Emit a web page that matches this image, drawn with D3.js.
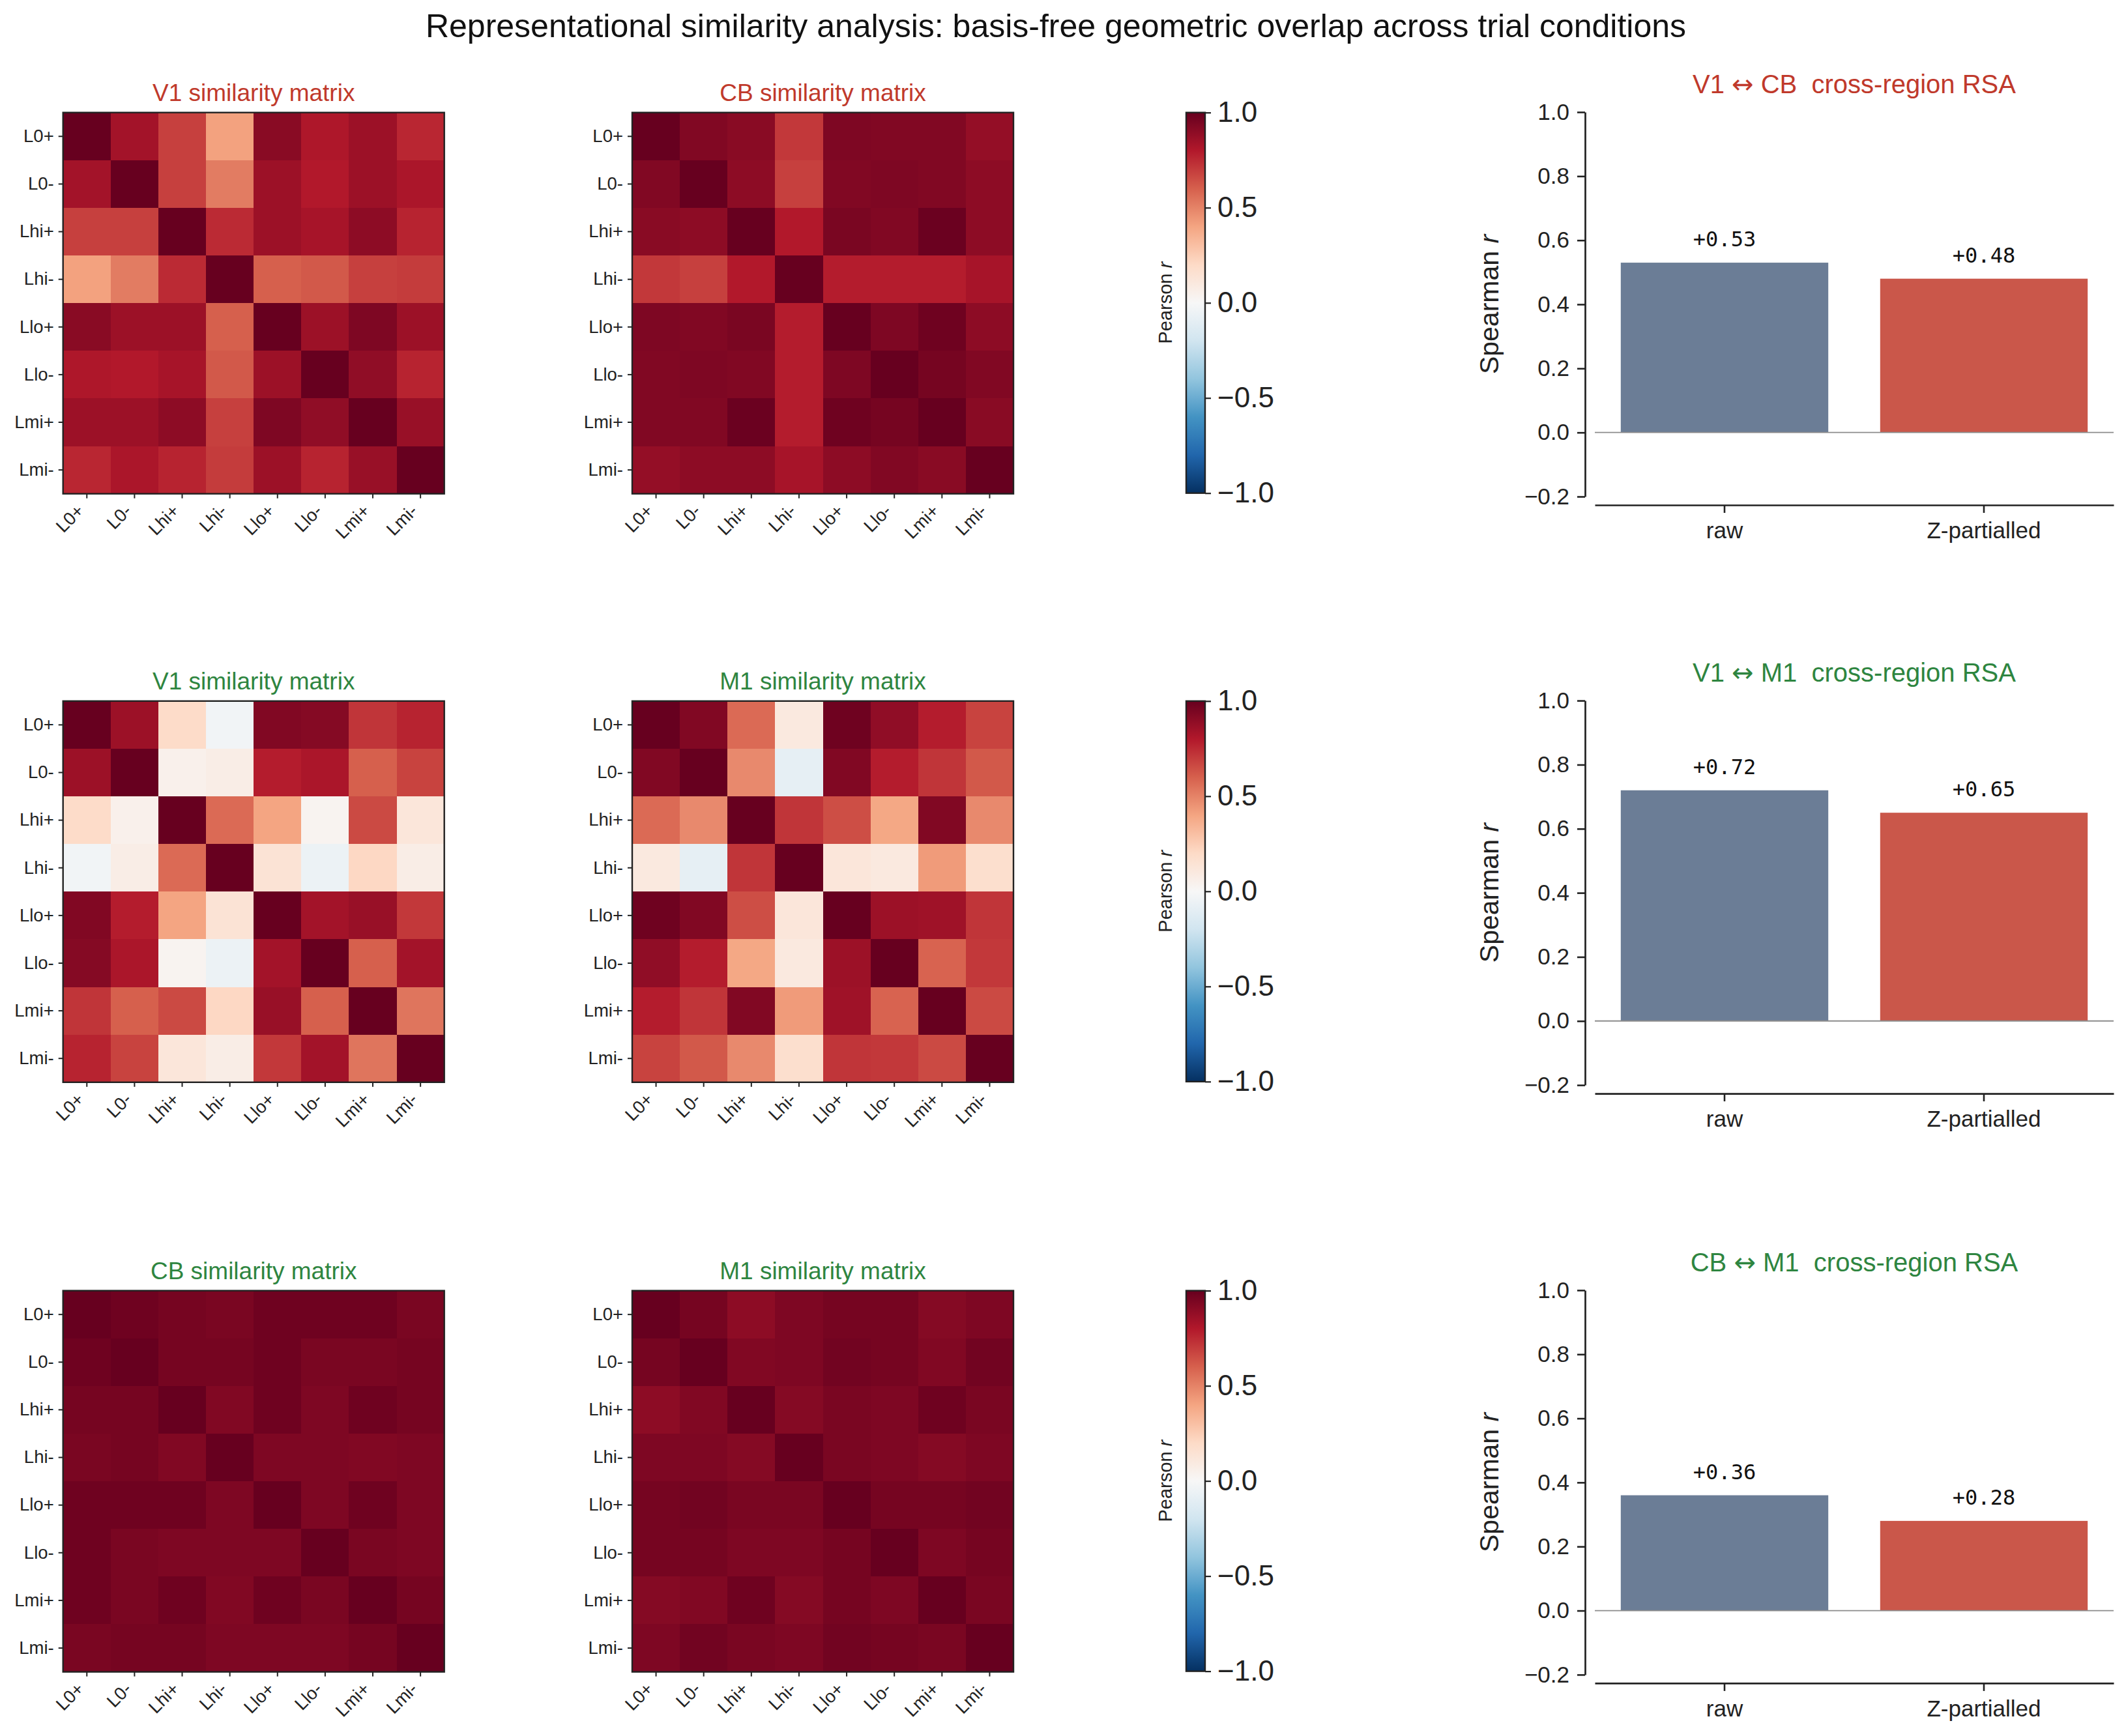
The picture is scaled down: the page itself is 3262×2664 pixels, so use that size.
<!DOCTYPE html>
<html>
<head>
<meta charset="utf-8">
<script src="https://cdn.jsdelivr.net/npm/d3@7"></script>
<style>
  body { margin: 0; background: #fff; }
  text { font-family: "Liberation Sans", Arial, Helvetica, sans-serif; fill: #222; }
  .mono { font-family: "DejaVu Sans Mono", "Liberation Mono", monospace; fill: #111; }
</style>
</head>
<body>
<svg id="fig" width="3262" height="2664"></svg>
<script>
// Trial conditions (rows / columns of every similarity matrix)
const conditions = ["L0+", "L0-", "Lhi+", "Lhi-", "Llo+", "Llo-", "Lmi+", "Lmi-"];

// Pearson r similarity matrices
const v1MatrixA = [
  [1.00, 0.84, 0.69, 0.41, 0.91, 0.81, 0.86, 0.76],
  [0.84, 1.00, 0.69, 0.52, 0.86, 0.80, 0.86, 0.82],
  [0.69, 0.69, 1.00, 0.75, 0.86, 0.83, 0.90, 0.77],
  [0.41, 0.52, 0.75, 1.00, 0.60, 0.62, 0.69, 0.70],
  [0.91, 0.86, 0.86, 0.60, 1.00, 0.86, 0.94, 0.86],
  [0.81, 0.80, 0.83, 0.62, 0.86, 1.00, 0.89, 0.77],
  [0.86, 0.86, 0.90, 0.69, 0.94, 0.89, 1.00, 0.87],
  [0.76, 0.82, 0.77, 0.70, 0.86, 0.77, 0.87, 1.00]
];
const cbMatrixA = [
  [1.00, 0.93, 0.91, 0.71, 0.94, 0.93, 0.93, 0.88],
  [0.93, 1.00, 0.90, 0.69, 0.93, 0.94, 0.93, 0.90],
  [0.91, 0.90, 1.00, 0.80, 0.95, 0.93, 0.99, 0.90],
  [0.71, 0.69, 0.80, 1.00, 0.79, 0.79, 0.79, 0.83],
  [0.94, 0.93, 0.95, 0.79, 1.00, 0.94, 0.98, 0.90],
  [0.93, 0.94, 0.93, 0.79, 0.94, 1.00, 0.96, 0.93],
  [0.93, 0.93, 0.99, 0.79, 0.98, 0.96, 1.00, 0.91],
  [0.88, 0.90, 0.90, 0.83, 0.90, 0.93, 0.91, 1.00]
];
const v1MatrixB = [
  [ 1.00, 0.86, 0.19, -0.03, 0.93,  0.92, 0.72, 0.77],
  [ 0.86, 1.00, 0.05,  0.07, 0.79,  0.82, 0.60, 0.68],
  [ 0.19, 0.05, 1.00,  0.57, 0.40,  0.03, 0.66, 0.12],
  [-0.03, 0.07, 0.57,  1.00, 0.14, -0.06, 0.21, 0.07],
  [ 0.93, 0.79, 0.40,  0.14, 1.00,  0.84, 0.87, 0.71],
  [ 0.92, 0.82, 0.03, -0.06, 0.84,  1.00, 0.60, 0.84],
  [ 0.72, 0.60, 0.66,  0.21, 0.87,  0.60, 1.00, 0.54],
  [ 0.77, 0.68, 0.12,  0.07, 0.71,  0.84, 0.54, 1.00]
];
const m1MatrixB = [
  [1.00,  0.93, 0.57,  0.10, 0.98, 0.89, 0.79, 0.68],
  [0.93,  1.00, 0.48, -0.09, 0.93, 0.79, 0.72, 0.62],
  [0.57,  0.48, 1.00,  0.72, 0.65, 0.39, 0.93, 0.48],
  [0.10, -0.09, 0.72,  1.00, 0.12, 0.10, 0.43, 0.17],
  [0.98,  0.93, 0.65,  0.12, 1.00, 0.86, 0.85, 0.72],
  [0.89,  0.79, 0.39,  0.10, 0.86, 1.00, 0.59, 0.71],
  [0.79,  0.72, 0.93,  0.43, 0.85, 0.59, 1.00, 0.66],
  [0.68,  0.62, 0.48,  0.17, 0.72, 0.71, 0.66, 1.00]
];
const cbMatrixC = [
  [1.00, 0.98, 0.96, 0.95, 0.98, 0.98, 0.98, 0.95],
  [0.98, 1.00, 0.96, 0.96, 0.98, 0.95, 0.95, 0.96],
  [0.96, 0.96, 1.00, 0.93, 0.98, 0.94, 0.98, 0.96],
  [0.95, 0.96, 0.93, 1.00, 0.94, 0.94, 0.93, 0.94],
  [0.98, 0.98, 0.98, 0.94, 1.00, 0.94, 0.98, 0.94],
  [0.98, 0.95, 0.94, 0.94, 0.94, 1.00, 0.95, 0.94],
  [0.98, 0.95, 0.98, 0.93, 0.98, 0.95, 1.00, 0.96],
  [0.95, 0.96, 0.96, 0.94, 0.94, 0.94, 0.96, 1.00]
];
const m1MatrixC = [
  [1.00, 0.96, 0.90, 0.94, 0.96, 0.96, 0.92, 0.94],
  [0.96, 1.00, 0.93, 0.94, 0.97, 0.96, 0.93, 0.97],
  [0.90, 0.93, 1.00, 0.92, 0.95, 0.94, 0.98, 0.95],
  [0.94, 0.94, 0.92, 1.00, 0.95, 0.94, 0.92, 0.94],
  [0.96, 0.97, 0.95, 0.95, 1.00, 0.96, 0.96, 0.97],
  [0.96, 0.96, 0.94, 0.94, 0.96, 1.00, 0.94, 0.96],
  [0.92, 0.93, 0.98, 0.92, 0.96, 0.94, 1.00, 0.95],
  [0.94, 0.97, 0.95, 0.94, 0.97, 0.96, 0.95, 1.00]
];

// Cross-region RSA (Spearman r)
const rsaMethods = ["raw", "Z-partialled"];
const rsaV1CB = [0.53, 0.48];
const rsaV1M1 = [0.72, 0.65];
const rsaCBM1 = [0.36, 0.28];

const rsaTicks = [-0.2, 0.0, 0.2, 0.4, 0.6, 0.8, 1.0];
const cbarTicks = [-1, -0.5, 0, 0.5, 1];

// matplotlib RdBu_r anchor colours (from +1 down to -1)
const rdbuColors = ["#67001f", "#b2182b", "#d6604d", "#f4a582", "#fddbc7", "#f7f7f7",
                    "#d1e5f0", "#92c5de", "#4393c3", "#2166ac", "#053061"];

const mainTitle = "Representational similarity analysis: basis-free geometric overlap across trial conditions";

// panel rows: two matrices, then the cross-region bar chart
const rows = [
  { mats: [v1MatrixA, cbMatrixA], names: ["V1", "CB"], rsa: rsaV1CB, color: "#c0392b" },
  { mats: [v1MatrixB, m1MatrixB], names: ["V1", "M1"], rsa: rsaV1M1, color: "#2e8540" },
  { mats: [cbMatrixC, m1MatrixC], names: ["CB", "M1"], rsa: rsaCBM1, color: "#2e8540" }
];

const svg = d3.select("#fig");
const ink = "#222";

const color = d3.scaleLinear()
  .domain(d3.range(11).map(i => 1 - i * 0.2))
  .range(rdbuColors)
  .interpolate(d3.interpolateRgb)
  .clamp(true);

const rowTops = [172.7, 1075.8, 1980.6];
const heatLeft = [96.7, 970];
const heatSize = 585;
const cbarLeft = 1820, cbarWidth = 29;
const barLeft = 2447, barRight = 3243, barHeight = 590;

svg.append("text")
  .attr("x", 1620)
  .attr("y", 57)
  .attr("text-anchor", "middle")
  .attr("font-size", 50)
  .style("fill", "#111")
  .text(mainTitle);

function styleAxis(g, fontSize, tickWidth) {
  g.selectAll("text").attr("font-size", fontSize).style("fill", ink).attr("font-family", null);
  g.selectAll("line").attr("stroke", ink).attr("stroke-width", tickWidth);
  g.selectAll("path.domain").attr("stroke", ink);
}

function drawHeatmap(x0, y0, matrix, title, titleColor) {
  const xs = d3.scaleBand().domain(conditions).range([x0, x0 + heatSize]);
  const ys = d3.scaleBand().domain(conditions).range([y0, y0 + heatSize]);
  const cells = [];
  matrix.forEach((row, i) => row.forEach((v, j) => cells.push({ r: conditions[i], c: conditions[j], v })));

  const g = svg.append("g");
  g.selectAll("rect.cell")
    .data(cells)
    .enter()
    .append("rect")
    .attr("class", "cell")
    .attr("x", d => xs(d.c))
    .attr("y", d => ys(d.r))
    .attr("width", xs.bandwidth() + 0.6)
    .attr("height", ys.bandwidth() + 0.6)
    .attr("fill", d => color(d.v))
    .attr("shape-rendering", "crispEdges");

  g.append("rect")
    .attr("x", x0).attr("y", y0)
    .attr("width", heatSize).attr("height", heatSize)
    .attr("fill", "none").attr("stroke", ink).attr("stroke-width", 2.4);

  const left = g.append("g")
    .attr("transform", `translate(${x0},0)`)
    .call(d3.axisLeft(ys).tickSize(7).tickPadding(7).tickSizeOuter(0));
  left.select(".domain").remove();
  styleAxis(left, 27.5, 2);

  const bottom = g.append("g")
    .attr("transform", `translate(0,${y0 + heatSize})`)
    .call(d3.axisBottom(xs).tickSize(7).tickSizeOuter(0));
  bottom.select(".domain").remove();
  styleAxis(bottom, 27.5, 2);
  bottom.selectAll("text")
    .attr("y", null).attr("dy", null)
    .attr("text-anchor", "end")
    .attr("transform", "translate(-3,28) rotate(-45)");

  g.append("text")
    .attr("x", x0 + heatSize / 2)
    .attr("y", y0 - 18)
    .attr("text-anchor", "middle")
    .attr("font-size", 37)
    .style("fill", titleColor)
    .text(title);
}

function drawColorbar(y0, idx) {
  const h = heatSize - 1;
  const gid = "cbar" + idx;
  const grad = svg.append("defs").append("linearGradient")
    .attr("id", gid).attr("x1", 0).attr("y1", 1).attr("x2", 0).attr("y2", 0);
  d3.range(0, 1.0001, 0.05).forEach(t => {
    grad.append("stop").attr("offset", t).attr("stop-color", color(-1 + 2 * t));
  });
  svg.append("rect")
    .attr("x", cbarLeft).attr("y", y0)
    .attr("width", cbarWidth).attr("height", h)
    .attr("fill", `url(#${gid})`)
    .attr("stroke", ink).attr("stroke-width", 2.4);

  const cs = d3.scaleLinear().domain([-1, 1]).range([y0 + h, y0]);
  const ax = svg.append("g")
    .attr("transform", `translate(${cbarLeft + cbarWidth},0)`)
    .call(d3.axisRight(cs).tickValues(cbarTicks).tickFormat(d3.format(".1f")).tickSize(9).tickPadding(10).tickSizeOuter(0));
  ax.select(".domain").remove();
  styleAxis(ax, 44, 2.2);

  const lab = svg.append("text")
    .attr("transform", `translate(${cbarLeft - 22},${y0 + h / 2}) rotate(-90)`)
    .attr("text-anchor", "middle")
    .attr("font-size", 29);
  lab.append("tspan").text("Pearson ");
  lab.append("tspan").attr("font-style", "italic").text("r");
}

function drawBars(y0, values, names, titleColor) {
  const x = d3.scaleBand().domain(rsaMethods).range([barLeft, barRight]).paddingInner(0.2).paddingOuter(0.1);
  const y = d3.scaleLinear().domain([-0.2, 1.0]).range([y0 + barHeight, y0]);
  const data = rsaMethods.map((m, i) => ({ m, v: values[i] }));
  const barColors = d3.scaleOrdinal().domain(rsaMethods).range(["#6b7d96", "#ca574a"]);

  const g = svg.append("g");
  g.selectAll("rect.bar")
    .data(data)
    .enter()
    .append("rect")
    .attr("class", "bar")
    .attr("x", d => x(d.m))
    .attr("width", x.bandwidth())
    .attr("y", d => y(Math.max(0, d.v)))
    .attr("height", d => Math.abs(y(d.v) - y(0)))
    .attr("fill", d => barColors(d.m));

  g.append("line")
    .attr("x1", barLeft).attr("x2", barRight)
    .attr("y1", y(0)).attr("y2", y(0))
    .attr("stroke", "#8c8c8c").attr("stroke-width", 1.8);

  g.selectAll("text.val")
    .data(data)
    .enter()
    .append("text")
    .attr("class", "mono")
    .attr("x", d => x(d.m) + x.bandwidth() / 2)
    .attr("y", d => y(d.v) - 25)
    .attr("text-anchor", "middle")
    .attr("font-size", 32)
    .text(d => d3.format("+.2f")(d.v));

  const ya = g.append("g")
    .attr("transform", `translate(${barLeft - 15},0)`)
    .call(d3.axisLeft(y).tickValues(rsaTicks).tickFormat(d3.format(".1f")).tickSize(12).tickPadding(12).tickSizeOuter(0));
  styleAxis(ya, 35, 2.6);
  ya.select(".domain").attr("stroke-width", 2.7);

  const xa = g.append("g")
    .attr("transform", `translate(0,${y0 + barHeight + 13})`)
    .call(d3.axisBottom(x).tickSize(12).tickPadding(14).tickSizeOuter(0));
  styleAxis(xa, 35, 2.6);
  xa.select(".domain").attr("stroke-width", 2.7);

  const yl = g.append("text")
    .attr("transform", `translate(${barLeft - 148},${y0 + barHeight / 2}) rotate(-90)`)
    .attr("text-anchor", "middle")
    .attr("font-size", 41);
  yl.append("tspan").text("Spearman ");
  yl.append("tspan").attr("font-style", "italic").text("r");

  const t = g.append("text")
    .attr("x", (barLeft + barRight) / 2)
    .attr("y", y0 - 29)
    .attr("text-anchor", "middle")
    .attr("font-size", 40)
    .style("fill", titleColor)
    .style("white-space", "pre");
  t.append("tspan").text(names[0] + " ");
  t.append("tspan").attr("font-family", "DejaVu Sans").style("fill", titleColor).text("\u2194");
  t.append("tspan").text(" " + names[1] + "  cross-region RSA");
}

rows.forEach((row, i) => {
  const top = rowTops[i];
  row.mats.forEach((m, k) => drawHeatmap(heatLeft[k], top, m, `${row.names[k]} similarity matrix`, row.color));
  drawColorbar(top, i);
  drawBars(top - 0.7, row.rsa, row.names, row.color);
});
</script>
</body>
</html>
